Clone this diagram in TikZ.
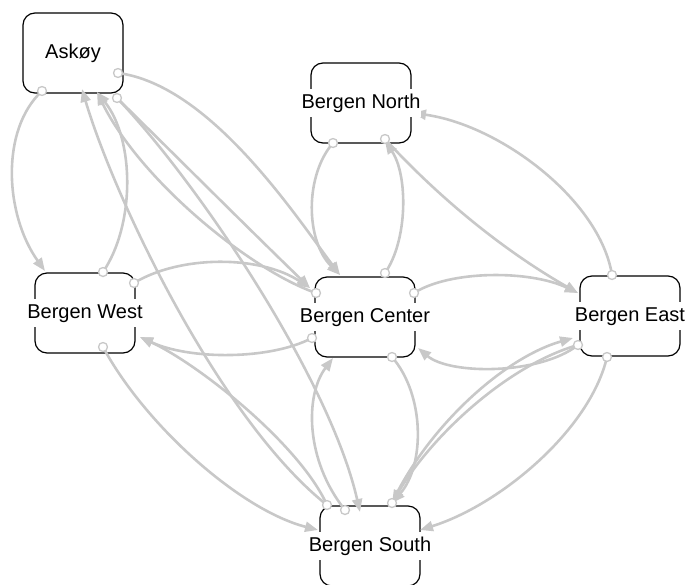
\documentclass[tikz,border=0pt]{standalone}
\usepackage{fontspec}
\setmainfont{Liberation Sans}
\usetikzlibrary{arrows.meta,calc}
\definecolor{linkgray}{RGB}{200,200,200}
\begin{document}
\begin{tikzpicture}[x=1pt,y=-1pt,
  region/.style={draw=black, line width=1.2pt, rounded corners=12pt,
    minimum width=100pt, minimum height=80pt, inner sep=0pt},
  regionlabel/.style={fill=white, inner xsep=1pt, inner ysep=4pt,
    text height=15pt, text depth=5pt, font=\fontsize{20}{24}\selectfont},
  link/.style={draw=linkgray, line width=2.6pt,
    -{Triangle[length=13pt,width=10pt,fill=linkgray]}},
  port/.style={draw=linkgray, fill=white, line width=1.3pt}
]
\useasboundingbox (0,0) rectangle (691,584);

% regions
\node[region] (A) at (73,53) {};
\node[region] (N) at (361,103) {};
\node[region] (W) at (85,313) {};
\node[region] (C) at (365,317) {};
\node[region] (E) at (630,316) {};
\node[region] (S) at (370,546) {};

% connection points on the region borders
\coordinate (aW)   at ($(A)+(-31,38)$);
\coordinate (aC)   at ($(A)+(45,20)$);
\coordinate (aX)   at ($(A)+(44,45)$);
\coordinate (aInW) at ($(A)+(24,39)$);
\coordinate (aInS) at ($(A)+(9,36)$);
\coordinate (wA)   at ($(W)+(18,-41)$);
\coordinate (wC)   at ($(W)+(49,-30)$);
\coordinate (wS)   at ($(W)+(18,34)$);
\coordinate (wTop) at ($(W)+(-40,-42)$);
\coordinate (wR)   at ($(W)+(55,24)$);
\coordinate (nC)   at ($(N)+(-28,40)$);
\coordinate (nE)   at ($(N)+(24,36)$);
\coordinate (nR)   at ($(N)+(52,10)$);
\coordinate (nB)   at ($(N)+(24,38)$);
\coordinate (cN)   at ($(C)+(20,-44)$);
\coordinate (cA)   at ($(C)+(-49,-24)$);
\coordinate (cE)   at ($(C)+(49,-24)$);
\coordinate (cW)   at ($(C)+(-53,21)$);
\coordinate (cS)   at ($(C)+(27,40)$);
\coordinate (cTop) at ($(C)+(-25,-42)$);
\coordinate (cL)   at ($(C)+(-55,-29)$);
\coordinate (cBL)  at ($(C)+(-32,41)$);
\coordinate (cBR)  at ($(C)+(53,31)$);
\coordinate (eN)   at ($(E)+(-18,-41)$);
\coordinate (eX)   at ($(E)+(-52,29)$);
\coordinate (eS)   at ($(E)+(-23,41)$);
\coordinate (eL)   at ($(E)+(-52,-23)$);
\coordinate (eBL)  at ($(E)+(-57,22)$);
\coordinate (sX)   at ($(S)+(-43,-41)$);
\coordinate (sC)   at ($(S)+(-25,-36)$);
\coordinate (sE)   at ($(S)+(22,-43)$);
\coordinate (sL)   at ($(S)+(-52,-16)$);
\coordinate (sR)   at ($(S)+(50,-16)$);
\coordinate (sT)   at ($(S)+(-10,-34)$);

% links
\draw[link] (aW) .. controls +(-42,39) and +(-40,-56) .. (wTop);
\draw[link] (wA) .. controls +(32,-47) and +(38,48) .. (aInW);
\draw[link] (aC) .. controls +(92,12) and +(-45,-60) .. (cTop);
\draw[link] (nC) .. controls +(-28,32) and +(-35,-35) .. (cTop);
\draw[link] (cN) .. controls +(23,-33) and +(23,34) .. (nB);
\draw[link] (nE) .. controls +(56,61) and +(-72,-41) .. (eL);
\draw[link] (eN) .. controls +(-12,-75) and +(87,12) .. (nR);
\draw[link] (cE) .. controls +(36,-23) and +(-48,-23) .. (eL);
\draw[link] (eX) .. controls +(-38,30) and +(32,27) .. (cBR);
\draw[link] (wC) .. controls +(46,-28) and +(-50,-33) .. (cL);
\draw[link] (cW) .. controls +(-42,22) and +(50,23) .. (wR);
\draw[link] (aX) .. controls +(63,62) and +(-60,-58) .. (cL);
\draw[link] (cA) .. controls +(-66,-23) and +(43,88) .. (aInW);
\draw[link] (aX) .. controls +(83,87) and +(-30,-132) .. (sT);
\draw[link] (sX) .. controls +(-107,-85) and +(33,111) .. (aInS);
\draw[link] (sX) .. controls +(-27,-60) and +(60,28) .. (wR);
\draw[link] (wS) .. controls +(42,78) and +(-78,-20) .. (sL);
\draw[link] (sC) .. controls +(-40,-50) and +(-28,37) .. (cBL);
\draw[link] (cS) .. controls +(33,38) and +(33,-38) .. (sE);
\draw[link] (sE) .. controls +(35,-75) and +(-70,20) .. (eBL);
\draw[link] (eX) .. controls +(-70,20) and +(40,-68) .. (sE);
\draw[link] (eS) .. controls +(-17,73) and +(80,-25) .. (sR);

% link origins
\foreach \p in {aW,aC,aX,wA,wC,wS,nC,nE,cN,cA,cE,cW,cS,eN,eX,eS,sX,sC,sE}
  \draw[port] (\p) circle[radius=4.5pt];

% region names
\node[regionlabel] (A-name) at (A) {Askøy};
\node[regionlabel] (N-name) at (N) {Bergen North};
\node[regionlabel] (W-name) at (W) {Bergen West};
\node[regionlabel] (C-name) at (C) {Bergen Center};
\node[regionlabel] (E-name) at (E) {Bergen East};
\node[regionlabel] (S-name) at (S) {Bergen South};
\end{tikzpicture}
\end{document}
